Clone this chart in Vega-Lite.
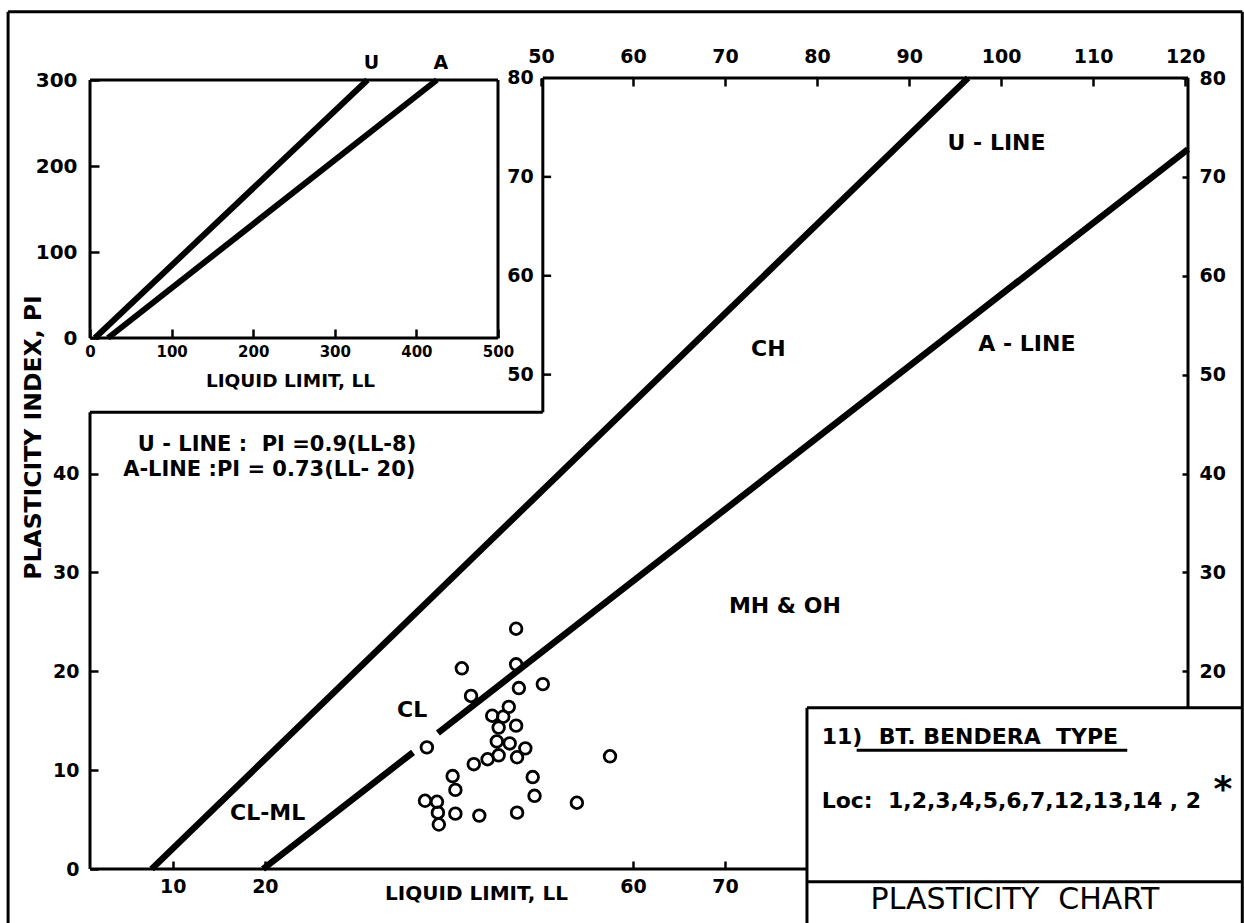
{
  "$schema": "https://vega.github.io/schema/vega-lite/v6.json",
  "width": 1098,
  "height": 791,
  "autosize": {"type": "none"},
  "padding": {"left": 90, "top": 78, "right": 56, "bottom": 54},
  "background": "white",
  "config": {
    "view": {"stroke": null},
    "font": "DejaVu Sans",
    "axis": {"grid": false, "domain": false, "labelColor": "black", "titleColor": "black", "tickColor": "black", "labelFont": "DejaVu Sans", "titleFont": "DejaVu Sans", "labelFontWeight": "bold", "titleFontWeight": "bold", "tickWidth": 2.5, "labelOverlap": false, "labelFlush": false},
    "text": {"font": "DejaVu Sans", "color": "black"}
  },
  "datasets": {
    "frame": [
      {"part": "main", "x1": 1, "y1": 0, "x2": 1, "y2": 46.2},
      {"part": "main", "x1": 1, "y1": 46.2, "x2": 50.2, "y2": 46.2},
      {"part": "main", "x1": 50.2, "y1": 46.2, "x2": 50.2, "y2": 80},
      {"part": "main", "x1": 50.2, "y1": 80, "x2": 120.3, "y2": 80},
      {"part": "main", "x1": 120.3, "y1": 80, "x2": 120.3, "y2": 16.3},
      {"part": "main", "x1": 1, "y1": 0, "x2": 78.9, "y2": 0},
      {"part": "box", "x1": 78.9, "y1": 16.3, "x2": 78.9, "y2": -5.6},
      {"part": "box", "x1": 78.9, "y1": 16.3, "x2": 126.2, "y2": 16.3},
      {"part": "box", "x1": 78.9, "y1": -1.3, "x2": 126.2, "y2": -1.3},
      {"part": "border", "x1": -7.9, "y1": 86.7, "x2": -7.9, "y2": -5.6},
      {"part": "border", "x1": -7.9, "y1": 86.7, "x2": 126.2, "y2": 86.7},
      {"part": "border", "x1": 126.2, "y1": 86.7, "x2": 126.2, "y2": -5.6},
      {"part": "underline", "x1": 84.3, "y1": 12.0, "x2": 113.7, "y2": 12.0}
    ],
    "lines": [
      {"line": "U", "x1": 7.7, "y1": 0, "x2": 96.4, "y2": 80},
      {"line": "A", "x1": 19.8, "y1": 0, "x2": 36.1, "y2": 11.8},
      {"line": "A", "x1": 38.8, "y1": 13.76, "x2": 120.3, "y2": 72.8}
    ],
    "points": [
      {"LL": 47.3, "PI": 24.3}, {"LL": 41.4, "PI": 20.3}, {"LL": 47.3, "PI": 20.7}, {"LL": 50.2, "PI": 18.7},
      {"LL": 47.6, "PI": 18.3}, {"LL": 42.4, "PI": 17.5}, {"LL": 46.5, "PI": 16.4}, {"LL": 44.7, "PI": 15.5},
      {"LL": 45.9, "PI": 15.4}, {"LL": 45.4, "PI": 14.3}, {"LL": 47.3, "PI": 14.5}, {"LL": 45.2, "PI": 12.9},
      {"LL": 46.6, "PI": 12.7}, {"LL": 37.6, "PI": 12.3}, {"LL": 48.3, "PI": 12.2}, {"LL": 45.4, "PI": 11.5},
      {"LL": 44.2, "PI": 11.1}, {"LL": 47.4, "PI": 11.3}, {"LL": 42.7, "PI": 10.6}, {"LL": 57.5, "PI": 11.4},
      {"LL": 40.4, "PI": 9.4}, {"LL": 49.1, "PI": 9.3}, {"LL": 40.7, "PI": 8.0}, {"LL": 49.3, "PI": 7.4},
      {"LL": 37.4, "PI": 6.9}, {"LL": 38.7, "PI": 6.8}, {"LL": 53.9, "PI": 6.7}, {"LL": 38.8, "PI": 5.7},
      {"LL": 40.7, "PI": 5.6}, {"LL": 43.3, "PI": 5.4}, {"LL": 47.4, "PI": 5.7}, {"LL": 38.9, "PI": 4.5}
    ],
    "zones": [
      {"label": "U - LINE", "LL": 99.5, "PI": 73.4},
      {"label": "A - LINE", "LL": 102.8, "PI": 53.1},
      {"label": "CH", "LL": 74.7, "PI": 52.6},
      {"label": "MH & OH", "LL": 76.5, "PI": 26.6},
      {"label": "CL", "LL": 36.0, "PI": 16.1},
      {"label": "CL-ML", "LL": 20.3, "PI": 5.7}
    ],
    "formulas": [
      {"label": "U - LINE :\u00a0 PI =0.9(LL-8)", "LL": 6.2, "PI": 42.9},
      {"label": "A-LINE :PI = 0.73(LL- 20)", "LL": 4.6, "PI": 40.4}
    ],
    "legendText": [
      {"label": "11)", "LL": 80.5, "PI": 13.35},
      {"label": "BT. BENDERA\u00a0\u00a0TYPE", "LL": 86.7, "PI": 13.35},
      {"label": "Loc:\u00a0 1,2,3,4,5,6,7,12,13,14 , 2", "LL": 80.5, "PI": 6.9}
    ],
    "star": [{"label": "*", "LL": 124.1, "PI": 6.9}],
    "chartTitle": [{"label": "PLASTICITY\u00a0\u00a0CHART", "LL": 101.5, "PI": -3.1}],
    "inner": [{"v": 80}, {"v": 70}, {"v": 60}, {"v": 50}],
    "insetFrame": [
      {"x1": 0, "y1": 300, "x2": 500, "y2": 300},
      {"x1": 500, "y1": 300, "x2": 500, "y2": 0},
      {"x1": 0, "y1": 0, "x2": 500, "y2": 0},
      {"x1": 0, "y1": 0, "x2": 0, "y2": 300}
    ],
    "insetLines": [
      {"line": "U", "x1": 6, "y1": 0, "x2": 340, "y2": 300},
      {"line": "A", "x1": 22, "y1": 0, "x2": 425, "y2": 300}
    ],
    "insetText": [
      {"label": "U", "LL": 345, "PI": 320},
      {"label": "A", "LL": 430, "PI": 320}
    ]
  },
  "layer": [
    {
      "data": {"name": "frame"},
      "mark": {"type": "rule", "color": "black", "strokeWidth": 3},
      "encoding": {
        "x": {"field": "x1", "type": "quantitative", "scale": {"domain": [1, 120.3], "nice": false, "zero": false},
          "axis": {"orient": "bottom", "values": [10, 20, 60, 70], "tickSize": -8, "labelPadding": 16, "labelFontSize": 19,
            "title": "LIQUID LIMIT, LL", "titleFontSize": 20, "titleFontWeight": "bold", "titleX": 386, "titleY": 24, "titleBaseline": "middle", "titleAlign": "center"}},
        "y": {"field": "y1", "type": "quantitative", "scale": {"domain": [0, 80], "nice": false, "zero": false},
          "axis": {"orient": "left", "values": [0, 10, 20, 30, 40], "tickSize": -8, "labelPadding": 19, "labelFontSize": 19,
            "title": "PLASTICITY INDEX, PI", "titleFontSize": 23.5, "titleX": -57, "titleY": 359, "titleBaseline": "middle", "titleAlign": "center", "titleAngle": -90}},
        "x2": {"field": "x2"},
        "y2": {"field": "y2"}
      }
    },
    {
      "data": {"name": "lines"},
      "mark": {"type": "rule", "color": "black", "strokeWidth": 6.5, "strokeCap": "butt"},
      "encoding": {
        "x": {"field": "x1", "type": "quantitative", "scale": {"domain": [1, 120.3], "nice": false, "zero": false},
          "axis": {"orient": "top", "values": [50, 60, 70, 80, 90, 100, 110, 120], "tickSize": -8, "labelPadding": 20, "labelFontSize": 19, "title": null}},
        "y": {"field": "y1", "type": "quantitative", "scale": {"domain": [0, 80], "nice": false, "zero": false},
          "axis": {"orient": "right", "values": [20, 30, 40, 50, 60, 70, 80], "tickSize": -6, "labelPadding": 17, "labelFontSize": 19, "title": null}},
        "x2": {"field": "x2"},
        "y2": {"field": "y2"}
      }
    },
    {
      "data": {"name": "points"},
      "mark": {"type": "point", "shape": "circle", "filled": false, "color": "black", "strokeWidth": 2.8, "size": 135, "opacity": 1},
      "encoding": {
        "x": {"field": "LL", "type": "quantitative", "scale": {"domain": [1, 120.3], "nice": false, "zero": false}, "axis": null},
        "y": {"field": "PI", "type": "quantitative", "scale": {"domain": [0, 80], "nice": false, "zero": false}, "axis": null}
      }
    },
    {
      "data": {"name": "zones"},
      "mark": {"type": "text", "fontSize": 22, "fontWeight": "bold", "align": "center", "baseline": "middle"},
      "encoding": {
        "x": {"field": "LL", "type": "quantitative", "scale": {"domain": [1, 120.3], "nice": false, "zero": false}, "axis": null},
        "y": {"field": "PI", "type": "quantitative", "scale": {"domain": [0, 80], "nice": false, "zero": false}, "axis": null},
        "text": {"field": "label"}
      }
    },
    {
      "data": {"name": "formulas"},
      "mark": {"type": "text", "fontSize": 21, "fontWeight": "bold", "align": "left", "baseline": "middle"},
      "encoding": {
        "x": {"field": "LL", "type": "quantitative", "scale": {"domain": [1, 120.3], "nice": false, "zero": false}, "axis": null},
        "y": {"field": "PI", "type": "quantitative", "scale": {"domain": [0, 80], "nice": false, "zero": false}, "axis": null},
        "text": {"field": "label"}
      }
    },
    {
      "data": {"name": "legendText"},
      "mark": {"type": "text", "fontSize": 22, "fontWeight": "bold", "align": "left", "baseline": "middle"},
      "encoding": {
        "x": {"field": "LL", "type": "quantitative", "scale": {"domain": [1, 120.3], "nice": false, "zero": false}, "axis": null},
        "y": {"field": "PI", "type": "quantitative", "scale": {"domain": [0, 80], "nice": false, "zero": false}, "axis": null},
        "text": {"field": "label"}
      }
    },
    {
      "data": {"name": "star"},
      "mark": {"type": "text", "fontSize": 36, "fontWeight": "bold", "align": "center", "baseline": "alphabetic"},
      "encoding": {
        "x": {"field": "LL", "type": "quantitative", "scale": {"domain": [1, 120.3], "nice": false, "zero": false}, "axis": null},
        "y": {"field": "PI", "type": "quantitative", "scale": {"domain": [0, 80], "nice": false, "zero": false}, "axis": null},
        "text": {"field": "label"}
      }
    },
    {
      "data": {"name": "chartTitle"},
      "mark": {"type": "text", "fontSize": 30, "fontWeight": "normal", "align": "center", "baseline": "middle"},
      "encoding": {
        "x": {"field": "LL", "type": "quantitative", "scale": {"domain": [1, 120.3], "nice": false, "zero": false}, "axis": null},
        "y": {"field": "PI", "type": "quantitative", "scale": {"domain": [0, 80], "nice": false, "zero": false}, "axis": null},
        "text": {"field": "label"}
      }
    },
    {
      "data": {"name": "inner"},
      "mark": {"type": "text", "fontSize": 19, "fontWeight": "bold", "align": "right", "baseline": "middle", "dx": -9},
      "encoding": {
        "x": {"datum": 50.2, "type": "quantitative", "scale": {"domain": [1, 120.3], "nice": false, "zero": false}, "axis": null},
        "y": {"field": "v", "type": "quantitative", "scale": {"domain": [0, 80], "nice": false, "zero": false}, "axis": null},
        "text": {"field": "v", "type": "quantitative"}
      }
    },
    {
      "data": {"name": "inner"},
      "transform": [{"filter": "datum.v < 80"}],
      "mark": {"type": "rule", "color": "black", "strokeWidth": 2.5},
      "encoding": {
        "x": {"datum": 50.2, "type": "quantitative", "scale": {"domain": [1, 120.3], "nice": false, "zero": false}, "axis": null},
        "x2": {"datum": 51.1},
        "y": {"field": "v", "type": "quantitative", "scale": {"domain": [0, 80], "nice": false, "zero": false}, "axis": null}
      }
    },
    {
      "data": {"name": "insetFrame"},
      "mark": {"type": "rule", "color": "black", "strokeWidth": 3},
      "encoding": {
        "x": {"field": "x1", "type": "quantitative", "scale": {"domain": [0, 1345.6], "nice": false, "zero": false},
          "axis": {"orient": "bottom", "offset": -531, "values": [0, 100, 200, 300, 400, 500], "tickSize": -9, "labelPadding": 15, "labelFontSize": 15,
            "title": "LIQUID LIMIT, LL", "titleFontSize": 18.5, "titleX": 200, "titleY": 42, "titleBaseline": "middle", "titleAlign": "center"}},
        "y": {"field": "y1", "type": "quantitative", "scale": {"domain": [-617.4, 302.33], "nice": false, "zero": false},
          "axis": {"orient": "left", "values": [0, 100, 200, 300], "tickSize": -9, "labelPadding": 22, "labelFontSize": 20, "title": null}},
        "x2": {"field": "x2"},
        "y2": {"field": "y2"}
      }
    },
    {
      "data": {"name": "insetLines"},
      "mark": {"type": "rule", "color": "black", "strokeWidth": 6, "strokeCap": "butt"},
      "encoding": {
        "x": {"field": "x1", "type": "quantitative", "scale": {"domain": [0, 1345.6], "nice": false, "zero": false}, "axis": null},
        "y": {"field": "y1", "type": "quantitative", "scale": {"domain": [-617.4, 302.33], "nice": false, "zero": false}, "axis": null},
        "x2": {"field": "x2"},
        "y2": {"field": "y2"}
      }
    },
    {
      "data": {"name": "insetText"},
      "mark": {"type": "text", "fontSize": 19, "fontWeight": "bold", "align": "center", "baseline": "middle"},
      "encoding": {
        "x": {"field": "LL", "type": "quantitative", "scale": {"domain": [0, 1345.6], "nice": false, "zero": false}, "axis": null},
        "y": {"field": "PI", "type": "quantitative", "scale": {"domain": [-617.4, 302.33], "nice": false, "zero": false}, "axis": null},
        "text": {"field": "label"}
      }
    }
  ],
  "resolve": {"scale": {"x": "independent", "y": "independent"}}
}
